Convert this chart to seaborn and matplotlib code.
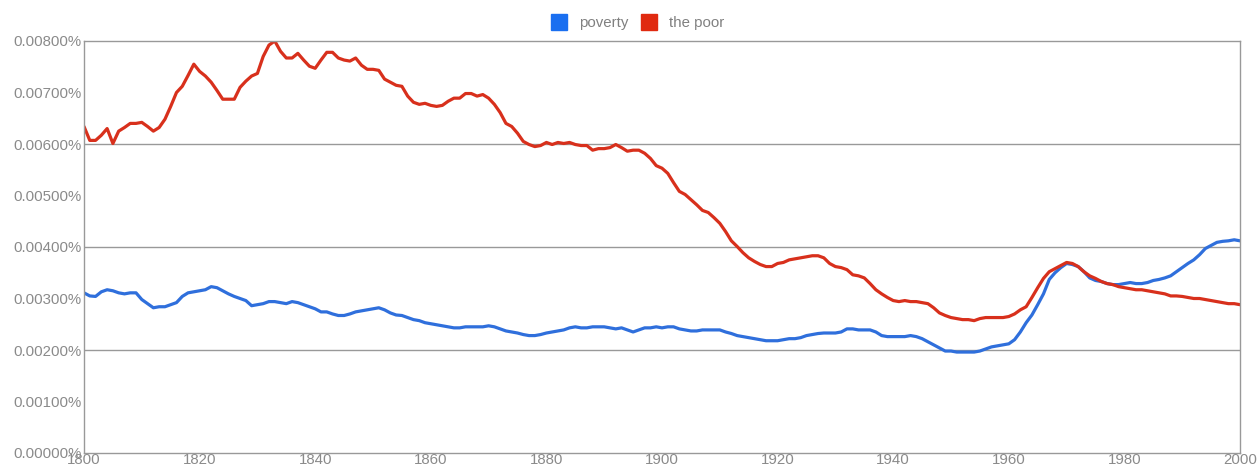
import numpy as np
import pandas as pd
import matplotlib
matplotlib.use("Agg")
import matplotlib.pyplot as plt
from matplotlib.lines import Line2D
import seaborn as sns

# ---- data (percent of corpus) ----
years = list(range(1800, 2001))

the_poor = [
    6.34, 6.07, 6.07, 6.17, 6.30, 6.01, 6.25, 6.32, 6.40, 6.40,
    6.42, 6.34, 6.25, 6.32, 6.48, 6.73, 7.00, 7.12, 7.33, 7.55,
    7.41, 7.32, 7.20, 7.04, 6.87, 6.87, 6.87, 7.10, 7.22, 7.32,
    7.37, 7.70, 7.92, 8.00, 7.80, 7.67, 7.67, 7.76, 7.63, 7.51,
    7.47, 7.63, 7.78, 7.78, 7.67, 7.63, 7.61, 7.67, 7.53, 7.45,
    7.45, 7.43, 7.26, 7.20, 7.14, 7.12, 6.93, 6.81, 6.77, 6.79,
    6.75, 6.73, 6.75, 6.83, 6.89, 6.89, 6.98, 6.98, 6.93, 6.96,
    6.89, 6.77, 6.61, 6.40, 6.34, 6.21, 6.05, 5.99, 5.95, 5.97,
    6.03, 5.99, 6.03, 6.01, 6.03, 5.99, 5.97, 5.97, 5.88, 5.91,
    5.91, 5.93, 5.99, 5.93, 5.86, 5.88, 5.88, 5.82, 5.72, 5.58,
    5.53, 5.43, 5.25, 5.08, 5.02, 4.92, 4.82, 4.71, 4.67, 4.57,
    4.46, 4.30, 4.12, 4.01, 3.89, 3.79, 3.72, 3.66, 3.62, 3.62,
    3.68, 3.70, 3.75, 3.77, 3.79, 3.81, 3.83, 3.83, 3.79, 3.68,
    3.62, 3.60, 3.56, 3.46, 3.44, 3.40, 3.29, 3.17, 3.09, 3.02,
    2.96, 2.94, 2.96, 2.94, 2.94, 2.92, 2.90, 2.82, 2.72, 2.67,
    2.63, 2.61, 2.59, 2.59, 2.57, 2.61, 2.63, 2.63, 2.63, 2.63,
    2.65, 2.70, 2.78, 2.84, 3.02, 3.21, 3.39, 3.52, 3.58, 3.64,
    3.70, 3.68, 3.62, 3.52, 3.44, 3.39, 3.33, 3.29, 3.27, 3.23,
    3.21, 3.19, 3.17, 3.17, 3.15, 3.13, 3.11, 3.09, 3.05, 3.05,
    3.04, 3.02, 3.00, 3.00, 2.98, 2.96, 2.94, 2.92, 2.90, 2.90,
    2.88,
]

poverty = [
    3.11, 3.05, 3.04, 3.13, 3.17, 3.15, 3.11, 3.09, 3.11, 3.11,
    2.98, 2.90, 2.82, 2.84, 2.84, 2.88, 2.92, 3.04, 3.11, 3.13,
    3.15, 3.17, 3.23, 3.21, 3.15, 3.09, 3.04, 3.00, 2.96, 2.86,
    2.88, 2.90, 2.94, 2.94, 2.92, 2.90, 2.94, 2.92, 2.88, 2.84,
    2.80, 2.74, 2.74, 2.70, 2.67, 2.67, 2.70, 2.74, 2.76, 2.78,
    2.80, 2.82, 2.78, 2.72, 2.68, 2.67, 2.63, 2.59, 2.57, 2.53,
    2.51, 2.49, 2.47, 2.45, 2.43, 2.43, 2.45, 2.45, 2.45, 2.45,
    2.47, 2.45, 2.41, 2.37, 2.35, 2.33, 2.30, 2.28, 2.28, 2.30,
    2.33, 2.35, 2.37, 2.39, 2.43, 2.45, 2.43, 2.43, 2.45, 2.45,
    2.45, 2.43, 2.41, 2.43, 2.39, 2.35, 2.39, 2.43, 2.43, 2.45,
    2.43, 2.45, 2.45, 2.41, 2.39, 2.37, 2.37, 2.39, 2.39, 2.39,
    2.39, 2.35, 2.32, 2.28, 2.26, 2.24, 2.22, 2.20, 2.18, 2.18,
    2.18, 2.20, 2.22, 2.22, 2.24, 2.28, 2.30, 2.32, 2.33, 2.33,
    2.33, 2.35, 2.41, 2.41, 2.39, 2.39, 2.39, 2.35, 2.28, 2.26,
    2.26, 2.26, 2.26, 2.28, 2.26, 2.22, 2.16, 2.10, 2.04, 1.98,
    1.98, 1.96, 1.96, 1.96, 1.96, 1.98, 2.02, 2.06, 2.08, 2.10,
    2.12, 2.20, 2.35, 2.53, 2.68, 2.88, 3.09, 3.37, 3.50, 3.60,
    3.68, 3.66, 3.62, 3.52, 3.40, 3.35, 3.33, 3.29, 3.27, 3.27,
    3.29, 3.31, 3.29, 3.29, 3.31, 3.35, 3.37, 3.40, 3.44, 3.52,
    3.60, 3.68, 3.75, 3.85, 3.97, 4.03, 4.09, 4.11, 4.12, 4.14,
    4.12,
]

series_names = ["poverty", "the poor"]
colors = {"poverty": "#2f6fdc", "the poor": "#d8301c"}
legend_colors = {"poverty": "#1a6ff0", "the poor": "#e02a10"}

df = pd.DataFrame({
    "year": years * 2,
    "value": (np.array(poverty) / 1000).tolist() + (np.array(the_poor) / 1000).tolist(),
    "series": ["poverty"] * len(years) + ["the poor"] * len(years),
})

# ---- plot ----
sns.set_style("white")
plt.rcParams["font.family"] = ["Liberation Sans", "DejaVu Sans"]

fig = plt.figure(figsize=(12.58, 4.67), dpi=100)
ax = fig.add_axes([84 / 1258, 14 / 467, 1156 / 1258, 412 / 467])

sns.lineplot(data=df, x="year", y="value", hue="series", hue_order=series_names,
             palette=colors, linewidth=2.3, ax=ax, legend=False)

ax.set_xlim(1800, 2000)
ax.set_ylim(0, 0.008)
ax.set_xlabel("")
ax.set_ylabel("")

ax.set_xticks(range(1800, 2001, 20))
ax.set_xticks(range(1840, 2000, 40), minor=True)
ax.set_yticks(np.arange(0, 0.0081, 0.001))
ax.set_yticklabels([f"{v:.5f}%" for v in np.arange(0, 0.0081, 0.001)])

ax.tick_params(axis="both", length=0, labelsize=10.8, colors="#8a8a8a")
ax.tick_params(axis="x", pad=0)
ax.tick_params(axis="y", pad=1.5)
ax.grid(False)
ax.grid(True, which="minor", axis="x", color="#999999", linewidth=1)
for yv in [0.002, 0.004, 0.006]:
    ax.axhline(yv, color="#999999", linewidth=1, zorder=0)
for sp in ax.spines.values():
    sp.set_color("#999999")
    sp.set_linewidth(1)

handles = [Line2D([], [], marker="s", linestyle="", markersize=12,
                  markerfacecolor=legend_colors[n], markeredgecolor=legend_colors[n])
           for n in series_names]
leg = fig.legend(handles, series_names, loc="center", ncol=2,
                 bbox_to_anchor=(634 / 1258, 1 - 23 / 467), frameon=False,
                 fontsize=10.8, handletextpad=0.3, columnspacing=0.4)
for t in leg.get_texts():
    t.set_color("#808080")

fig.savefig("out.png", dpi=100)
